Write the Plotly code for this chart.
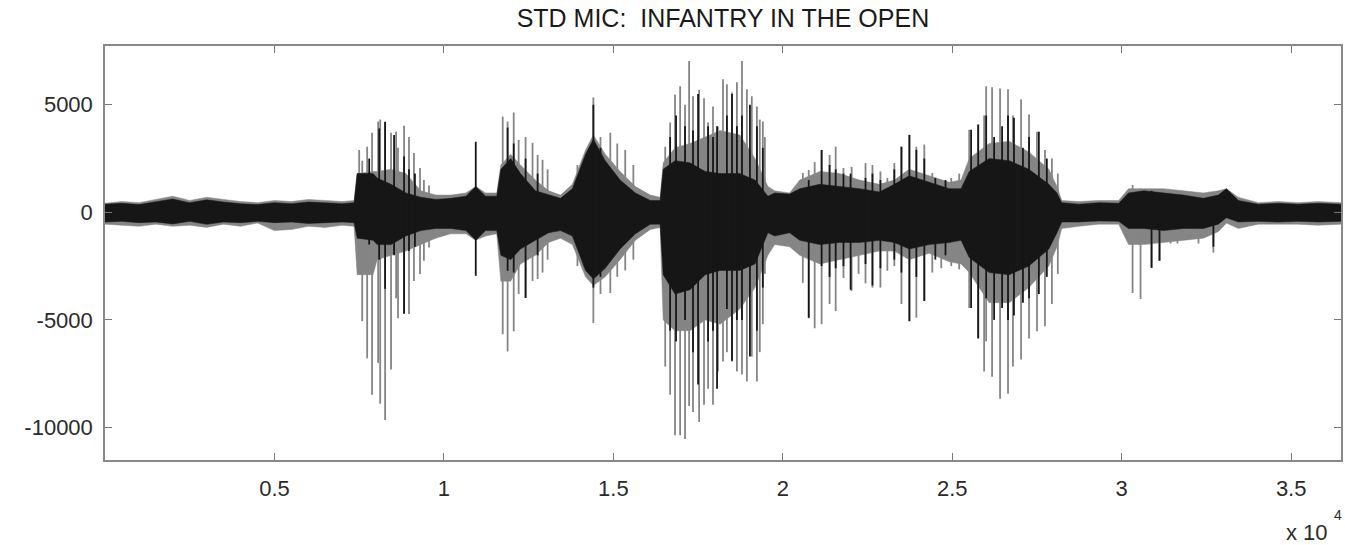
import plotly.graph_objects as go

TITLE = "STD MIC:  INFANTRY IN THE OPEN"

# ---- envelope of the dense waveform core (sample index, amplitude) ----
core_x = [0, 500, 1000, 1500, 2000, 2500, 3000, 3500, 4000, 4500, 5000, 5500, 6000, 6500,
          7000, 7350, 7440, 7910, 8030, 8440, 8880, 9320, 9760, 10200, 10650, 10940, 11230,
          11560, 11680, 11970, 12260, 12700, 13090, 13440, 13790, 14180, 14410, 14760, 15200,
          15650, 16090, 16380, 16470, 16820, 17260, 17710, 18150, 18730, 19180, 19560, 19760,
          20200, 20500, 21090, 21680, 22260, 22850, 23290, 23730, 24320, 24910, 25260, 25500,
          26090, 26680, 27260, 27850, 28090, 28230, 28730, 29320, 29910, 30200, 30650, 31230,
          31820, 32410, 32850, 33090, 33440, 34030, 34620, 35200, 35790, 36470]
black_hi = [380, 420, 360, 480, 620, 440, 580, 480, 400, 360, 450, 400, 480, 440,
            400, 450, 1800, 1800, 1600, 1300, 900, 700, 600, 650, 750, 1200, 750,
            750, 2000, 2500, 1800, 1000, 800, 650, 1100, 2700, 3400, 2400, 1500,
            900, 550, 550, 2000, 2400, 2300, 1900, 1800, 1800, 1500, 750, 900,
            850, 1100, 1300, 1200, 1100, 950, 1300, 1700, 1400, 1100, 1100, 1900,
            2500, 2400, 2000, 1300, 900, 450, 380, 450, 420, 900, 1000, 900,
            800, 650, 800, 1100, 550, 380, 420, 380, 420, 380]
black_lo = [-450, -420, -480, -450, -540, -420, -560, -450, -480, -420, -480, -450, -520, -480,
            -450, -480, -1200, -1300, -1500, -1500, -1100, -850, -750, -750, -850, -1300, -850,
            -850, -2000, -2200, -1700, -1300, -950, -850, -1100, -2700, -3100, -2600, -1700,
            -1000, -550, -550, -2900, -3800, -3600, -2900, -2700, -2700, -2400, -950, -1100,
            -950, -1300, -1500, -1400, -1400, -1300, -1400, -1700, -1500, -1400, -1300, -2100,
            -2800, -2900, -2500, -1700, -950, -450, -450, -400, -420, -750, -750, -850,
            -750, -750, -550, -250, -450, -420, -450, -420, -450, -420]
gray_hi = [420, 500, 450, 600, 750, 550, 700, 600, 500, 450, 550, 500, 600, 550,
           500, 550, 1800, 1900, 1900, 2000, 1800, 1000, 800, 800, 900, 1200, 900,
           900, 2200, 2700, 2200, 1500, 1000, 800, 1300, 2900, 3600, 2700, 1900,
           1200, 800, 700, 2300, 3000, 3200, 3500, 3800, 3600, 2500, 1200, 1000,
           900, 1500, 1900, 1800, 1500, 1300, 1500, 2000, 1700, 1400, 1500, 2500,
           3200, 3300, 2800, 2000, 1200, 550, 500, 550, 550, 1100, 1100, 1100,
           1000, 900, 1000, 1100, 700, 450, 500, 450, 500, 450]
gray_lo = [-550, -600, -650, -550, -650, -600, -700, -550, -650, -500, -850, -800, -650, -700,
           -600, -650, -2900, -2900, -2200, -2000, -1800, -1500, -1200, -1000, -1000, -1300, -1100,
           -1000, -3200, -3200, -2400, -2000, -1400, -1200, -1500, -3000, -3400, -3000, -2200,
           -1300, -800, -700, -5000, -5500, -5500, -5000, -5200, -4500, -3500, -2000, -1500,
           -1600, -2000, -2400, -2200, -2000, -1800, -1800, -2200, -1900, -2300, -2400, -2800,
           -4200, -4200, -3500, -2500, -1600, -750, -650, -550, -550, -1500, -1500, -1400,
           -1300, -1200, -900, -500, -750, -550, -550, -550, -600, -550]

# ---- individual pitch spikes (sample index, top, bottom) ----
gray_spike_x = [7500, 7590, 7735, 7880, 8060, 8120, 8265, 8440, 8590, 8645, 8825, 8970, 9115,
                9295, 9410, 9560,
                11735, 11880, 12060, 12205, 12410, 12615, 12765, 12910, 13060,
                13940, 14410, 14620, 14910, 15115, 15350, 15590,
                16530, 16675, 16820, 16970, 17115, 17235, 17350, 17530, 17675, 17795, 17940,
                18085, 18235, 18350, 18500, 18645, 18795, 18940, 19085, 19235, 19320, 19470,
                19410,
                20590, 20765, 20940, 21145, 21380, 21560, 21790, 22030, 22235, 22440, 22645,
                22880, 23085,
                23290, 23500, 23735, 23940, 24175, 24410, 24675, 24970, 25205,
                25500, 25765, 25940, 26000, 26175, 26410, 26645, 26790, 27030, 27265, 27500,
                27735, 27940, 28115,
                30320, 30555, 30880, 31115, 31440, 31645, 31880, 32265, 32705]
gray_spike_top = [2900, 2400, 3050, 3700, 4220, 4310, 4220, 3700, 3750, 3000, 4030, 3500, 2760,
                  2060, 1500, 1250,
                  4450, 4220, 4640, 3370, 3500, 3230, 2670, 2440, 2000,
                  2200, 5340, 3500, 3700, 3200, 2900, 2200,
                  3050, 4170, 5480, 5860, 5000, 7030, 5400, 5700, 5300, 4170, 4920,
                  3980, 6190, 5950, 5570, 6050, 7030, 5720, 5400, 4920, 4310, 3500,
                  4220,
                  1830, 1970, 2340, 2900, 2670, 3050, 2060, 2110, 1500, 2290, 2200,
                  1900, 1600,
                  2290, 3050, 3600, 3050, 3150, 1830, 1400, 1600, 1800,
                  3840, 4080, 4500, 5860, 5810, 5760, 5720, 4500, 5250, 4550, 3750,
                  2900, 2500, 1800,
                  1270, 1100, 1000, 1000, 900, 900, 800, 800, 900]
gray_spike_bot = [-2900, -5060, -6790, -8480, -7000, -8900, -9650, -7310, -4000, -4920, -4730, -4730, -3190,
                  -2870, -2250, -1640,
                  -5670, -6470, -5530, -3800, -3980, -3190, -3100, -2800, -2200,
                  -2500, -5150, -3800, -3750, -3000, -2700, -2200,
                  -7170, -8480, -10360, -10360, -10540, -9000, -9280, -9750, -8950, -8200, -8950,
                  -7400, -6935, -6500, -6935, -7400, -7540, -7870, -6700, -7870, -6500, -2860,
                  -5200,
                  -3280, -4920, -5390, -5200, -4260, -4590, -3050, -3650, -2860, -3300, -3500,
                  -3500, -2720,
                  -2500, -4260, -5060, -4900, -4120, -2800, -2600, -2500, -2650,
                  -4450, -5860, -7400, -6000, -7640, -8670, -8430, -7170, -6840, -5860, -5530,
                  -5300, -4260, -2860,
                  -3750, -4030, -2580, -2250, -1450, -1450, -1260, -1450, -1870]

black_spike_x = [7795, 8090, 8265, 8530, 8825, 8970, 9145,
                 10940,
                 11880, 12060, 12410, 12765,
                 14410, 14620,
                 16675, 16850, 17115, 17350, 17500, 17795, 17940, 18060, 18350, 18500, 18645,
                 18795, 19030, 19235, 19410,
                 20765, 21145, 21380, 21560, 21790, 22000, 22440, 22645, 22880,
                 23290, 23500, 23735, 23940, 24175, 24500, 24800,
                 25555, 25765, 26000, 26235, 26470, 26645, 26820, 27085, 27265, 27555, 27790,
                 30880, 31115, 32705]
black_spike_top = [2500, 3900, 4200, 3600, 2600, 2000, 1800,
                   3280,
                   3940, 3200, 2500, 1800,
                   5000, 3000,
                   3500, 4500, 4000, 3800, 5500, 4000, 3500, 4000, 4500, 5500, 4000,
                   4500, 5000, 4000, 3000,
                   1500, 2900, 2200, 2000, 1800, 1800, 1600, 1800, 1500,
                   2000, 3050, 3600, 2900, 2500, 1600, 1500,
                   3840, 4080, 4500, 3500, 4000, 4500, 4400, 3000, 3500, 3750, 2500,
                   1000, 900, 700]
black_spike_bot = [-1500, -2200, -3560, -2000, -4700, -1800, -1600,
                   -2950,
                   -2720, -2800, -3980, -2000,
                   -3500, -3000,
                   -5500, -6000, -5000, -6500, -8000, -6000, -5500, -8200, -4500, -6900, -5000,
                   -5000, -6700, -5500, -3500,
                   -4900, -2500, -3000, -2600, -2500, -3600, -2400, -3400, -2600,
                   -2200, -2800, -5060, -3000, -4120, -2200, -2000,
                   -4450, -5860, -4000, -5000, -4450, -5000, -4800, -4200, -4000, -3800, -3000,
                   -2580, -2250, -1600]

x_tick_vals = [5000, 10000, 15000, 20000, 25000, 30000, 35000]
x_tick_text = ["0.5", "1", "1.5", "2", "2.5", "3", "3.5"]
y_tick_vals = [5000, 0, -5000, -10000]
y_tick_text = ["5000", "0", "-5000", "-10000"]

GRAY = "#858585"
BLACK = "#161616"
FONT = "Liberation Sans, Arial, Helvetica, sans-serif"


def segs(xs, tops, bots):
    X, Y = [], []
    for x, t, b in zip(xs, tops, bots):
        X += [x, x, None]
        Y += [b, t, None]
    return X, Y


fig = go.Figure()
fig.add_trace(go.Scatter(x=core_x, y=gray_hi, mode="lines", line=dict(width=0.5, color=GRAY),
                         hoverinfo="skip", showlegend=False))
fig.add_trace(go.Scatter(x=core_x, y=gray_lo, mode="lines", line=dict(width=0.5, color=GRAY),
                         fill="tonexty", fillcolor=GRAY, hoverinfo="skip", showlegend=False))
gx, gy = segs(gray_spike_x, gray_spike_top, gray_spike_bot)
fig.add_trace(go.Scatter(x=gx, y=gy, mode="lines", line=dict(width=1.8, color=GRAY),
                         hoverinfo="skip", showlegend=False))
fig.add_trace(go.Scatter(x=core_x, y=black_hi, mode="lines", line=dict(width=0.5, color=BLACK),
                         hoverinfo="skip", showlegend=False))
fig.add_trace(go.Scatter(x=core_x, y=black_lo, mode="lines", line=dict(width=0.5, color=BLACK),
                         fill="tonexty", fillcolor=BLACK, hoverinfo="skip", showlegend=False))
bx, by = segs(black_spike_x, black_spike_top, black_spike_bot)
fig.add_trace(go.Scatter(x=bx, y=by, mode="lines", line=dict(width=1.8, color=BLACK),
                         hoverinfo="skip", showlegend=False))

axis_font = dict(family=FONT, size=22, color="#2a2a2a")

fig.update_layout(
    width=1345, height=545,
    margin=dict(l=105, r=2, t=46, b=85),
    paper_bgcolor="white", plot_bgcolor="white",
    title=dict(text=TITLE, x=0.5375, xanchor="center", y=0.967, yanchor="middle",
               font=dict(family=FONT, size=25, color="#1a1a1a")),
    xaxis=dict(range=[0, 36470], tickvals=x_tick_vals, ticktext=x_tick_text,
               ticks="inside", ticklen=7, tickwidth=1.2, tickcolor="#777",
               showline=True, linecolor="#888", linewidth=1.5, mirror="ticks",
               showgrid=False, zeroline=False, tickfont=axis_font, ticklabelstandoff=8),
    yaxis=dict(range=[-11514, 7732], tickvals=y_tick_vals, ticktext=y_tick_text,
               ticks="inside", ticklen=7, tickwidth=1.2, tickcolor="#777",
               showline=True, linecolor="#888", linewidth=1.5, mirror="ticks",
               showgrid=False, zeroline=False, tickfont=axis_font, ticklabelstandoff=6),
    annotations=[
        dict(text="x 10", xref="paper", yref="paper", x=1.0, y=-0.176, xanchor="right",
             yanchor="middle", xshift=-11, showarrow=False,
             font=dict(family=FONT, size=22, color="#2a2a2a")),
        dict(text="4", xref="paper", yref="paper", x=1.0, y=-0.133, xanchor="center",
             yanchor="middle", xshift=-3, showarrow=False,
             font=dict(family=FONT, size=14, color="#2a2a2a")),
    ],
)

fig.write_html("out.html")
